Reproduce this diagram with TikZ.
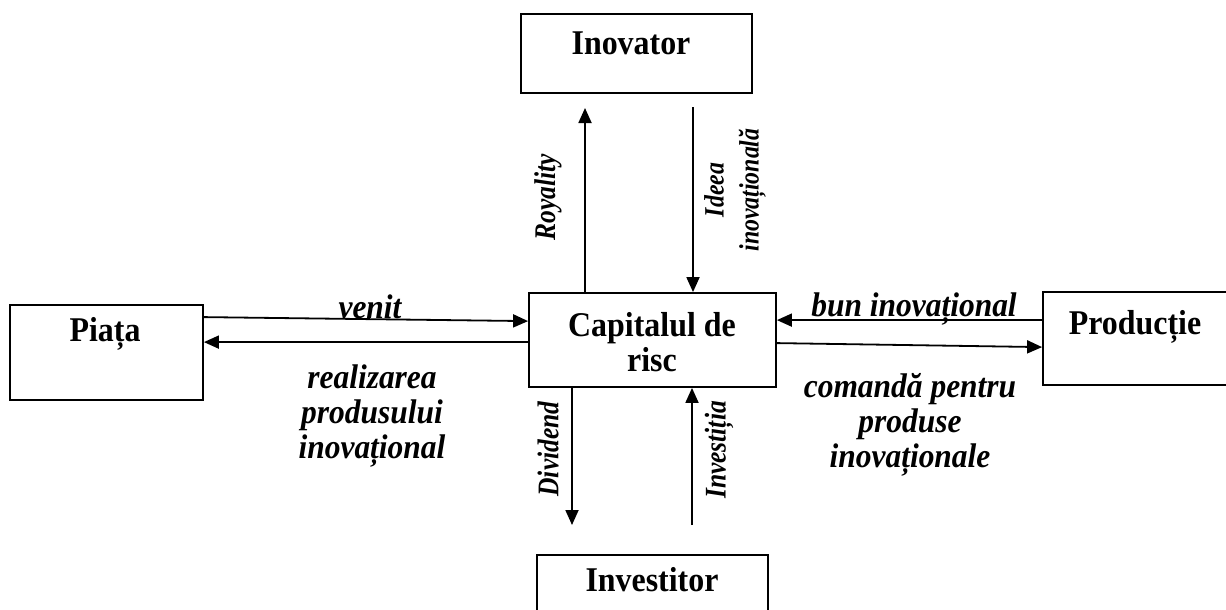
\documentclass[tikz,border=0pt]{standalone}
\usepackage{fontspec}
\setmainfont{Liberation Serif}[FakeStretch=0.92]
% narrower cut for the upright-turned labels beside the vertical connectors
\newfontfamily\sidefont{Liberation Serif}[FakeStretch=0.85]
\usetikzlibrary{arrows.meta,calc}
\begin{document}
\begin{tikzpicture}[x=1pt,y=-1pt,
  box/.style={draw,line width=1.8pt,inner sep=0pt},
  title/.style={font=\fontsize{34.7}{35}\selectfont\bfseries,inner sep=0pt},
  flow/.style={font=\fontsize{34.2}{35}\selectfont\bfseries\itshape,inner sep=0pt,align=center},
  side/.style={font=\sidefont\fontsize{30}{35}\selectfont\bfseries\itshape,inner sep=0pt,rotate=90},
  arr/.style={line width=1.8pt,-{Triangle[length=15pt,width=13pt]}}]
\clip (0,0) rectangle (1226,610);
% boxes
\node[box,minimum width=231pt,minimum height=79pt] (inov) at (636.5,53.5) {};
\node[box,minimum width=247pt,minimum height=94pt] (cap) at (652.5,340) {};
\node[box,minimum width=193pt,minimum height=95pt] (piata) at (106.5,352.5) {};
\node[box,minimum width=200pt,minimum height=93pt] (prod) at (1143,338.5) {};
\node[box,minimum width=231pt,minimum height=70pt] (inv) at (652.5,590) {};
% box titles
\node[title,anchor=base] (tInov) at (631,55) {Inovator};
\node[title,align=center] (tCap) at (652,342) {Capitalul de\\risc};
\node[title] (tPiata) at (105,334) {Piața};
\node[title] (tProd) at (1135,327) {Producție};
\node[title] (tInv) at (652,580) {Investitor};
% free ends of the vertical connectors
\coordinate (royEnd) at (585,108);
\coordinate (ideeaStart) at (693,107);
\coordinate (divEnd) at (572,525);
\coordinate (invStart) at (692,525);
% vertical connectors
\draw[arr] (cap.north west -| royEnd) -- (royEnd);
\draw[arr] (ideeaStart) -- (cap.north west -| ideeaStart);
\draw[arr] (cap.south west -| divEnd) -- (divEnd);
\draw[arr] (invStart) -- (cap.south west -| invStart);
% horizontal connectors
\draw[arr] ($(piata.north east)+(0,13)$) -- ($(cap.north west)+(0,29)$);
\draw[arr] ($(cap.north west)+(0,50)$) -- ($(piata.north east)+(0,38)$);
\draw[arr] ($(prod.north west)+(0,29)$) -- ($(cap.north east)+(0,28)$);
\draw[arr] ($(cap.north east)+(0,51)$) -- ($(prod.north west)+(0,56)$);
% connector labels
\node[flow,anchor=base] (lVenit) at (370,318) {venit};
\node[flow] (lReal) at (372,416) {realizarea\\produsului\\inovațional};
\node[flow,anchor=base] (lBun) at (914,316) {bun inovațional};
\node[flow] (lCom) at (910,425) {comandă pentru\\produse\\inovaționale};
\node[side] (lRoy) at (548,197) {Royality};
\node[side,font=\sidefont\fontsize{28}{35}\selectfont\bfseries\itshape,align=center] (lIdeea) at (735,190) {Ideea\\inovațională};
\node[side] (lDiv) at (548,449) {Dividend};
\node[side] (lInvest) at (719,450) {Investiția};
\end{tikzpicture}
\end{document}
